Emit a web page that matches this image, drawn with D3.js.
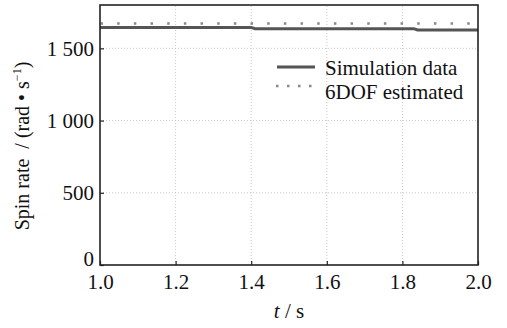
<!DOCTYPE html>
<html><head><meta charset="utf-8">
<script src="https://cdn.jsdelivr.net/npm/d3@7"></script>
<style>body{margin:0;background:#fff}svg{display:block}text{font-family:"Liberation Serif","Times New Roman",serif;fill:#111}</style>
</head><body><svg id="c" width="507" height="328"></svg>
<script>
const xTicks = [1.0, 1.2, 1.4, 1.6, 1.8, 2.0];
const xTickLabels = ["1.0", "1.2", "1.4", "1.6", "1.8", "2.0"];
const yTicks = [0, 500, 1000, 1500];
const yTickLabels = ["0", "500", "1 000", "1 500"];
const simT = [1.0, 1.40, 1.41, 1.83, 1.84, 2.0];
const simV = [1645, 1645, 1636, 1636, 1627, 1627];
const estT = [1.0, 2.0];
const estV = [1672, 1672];
const seriesNames = ["Simulation data", "6DOF estimated"];

const svg = d3.select("#c");
const m = {l: 100, r: 29, t: 5, b: 63};
const W = 507, H = 328;
const x = d3.scaleLinear().domain([1, 2]).range([m.l, W - m.r]);
const y = d3.scaleLinear().domain([0, 1800]).range([H - m.b, m.t]);

// grid
const g = svg.append("g");
g.selectAll("line.gx").data(xTicks.slice(1, -1)).enter().append("line")
  .attr("x1", d => x(d)).attr("x2", d => x(d)).attr("y1", y(0)).attr("y2", y(1800))
  .attr("stroke", "#bbb").attr("stroke-width", 0.8).attr("stroke-dasharray", "1,2");
g.selectAll("line.gy").data(yTicks.slice(1)).enter().append("line")
  .attr("x1", x(1)).attr("x2", x(2)).attr("y1", d => y(d)).attr("y2", d => y(d))
  .attr("stroke", "#bbb").attr("stroke-width", 0.8).attr("stroke-dasharray", "1,2");

// series
const line = d3.line().x(d => x(d[0])).y(d => y(d[1]));
svg.append("path").datum(estT.map((t, i) => [t, estV[i]]))
  .attr("d", line).attr("fill", "none").attr("stroke", "#888")
  .attr("stroke-width", 2.5).attr("stroke-dasharray", "2.5,14.17").attr("stroke-dashoffset", -0.5);
svg.append("path").datum(simT.map((t, i) => [t, simV[i]]))
  .attr("d", line).attr("fill", "none").attr("stroke", "#555").attr("stroke-width", 3);

// axes
const xa = svg.append("g").attr("transform", `translate(0,${y(0)})`)
  .call(d3.axisBottom(x).tickValues(xTicks).tickFormat((d, i) => xTickLabels[i]).tickSizeInner(-4).tickSizeOuter(0).tickPadding(9));
const ya = svg.append("g").attr("transform", `translate(${x(1)},0)`)
  .call(d3.axisLeft(y).tickValues(yTicks).tickFormat((d, i) => yTickLabels[i]).tickSizeInner(-4).tickSizeOuter(0).tickPadding(6));
[xa, ya].forEach(a => {
  a.select(".domain").remove();
  a.selectAll(".tick line").attr("stroke", "#222").attr("stroke-width", 1.2);
  a.selectAll("text").style("font-size", "21px").style("font-family", "Liberation Serif").attr("fill", "#111");
});
ya.selectAll(".tick text").filter(d => d === 0).attr("y", -6);
// frame
svg.append("rect").attr("x", x(1)).attr("y", y(1800)).attr("width", x(2) - x(1)).attr("height", y(0) - y(1800))
  .attr("fill", "none").attr("stroke", "#222").attr("stroke-width", 1.6);

// legend
const lg = svg.append("g");
lg.append("line").attr("x1", 277).attr("x2", 315).attr("y1", 67).attr("y2", 67)
  .attr("stroke", "#555").attr("stroke-width", 3);
lg.append("line").attr("x1", 276).attr("x2", 315).attr("y1", 86).attr("y2", 86)
  .attr("stroke", "#888").attr("stroke-width", 2.5).attr("stroke-dasharray", "2.5,8.5");
lg.append("text").attr("x", 325).attr("y", 75).style("font-size", "21px").text(seriesNames[0]);
lg.append("text").attr("x", 325).attr("y", 99).style("font-size", "21px").text(seriesNames[1]);

// axis titles
const xt = svg.append("text").attr("x", x(1.5)).attr("y", 318).attr("text-anchor", "middle").style("font-size", "21px");
xt.append("tspan").attr("font-style", "italic").text("t");
xt.append("tspan").text(" / s");

const yt = svg.append("text").attr("transform", `translate(29,146) rotate(-90)`).attr("text-anchor", "middle").style("font-size", "20px");
yt.append("tspan").text("Spin rate\u00a0\u00a0/ (rad • s");
yt.append("tspan").attr("dy", -8).style("font-size", "12px").text("−1");
yt.append("tspan").attr("dy", 8).text(")");
</script></body></html>
